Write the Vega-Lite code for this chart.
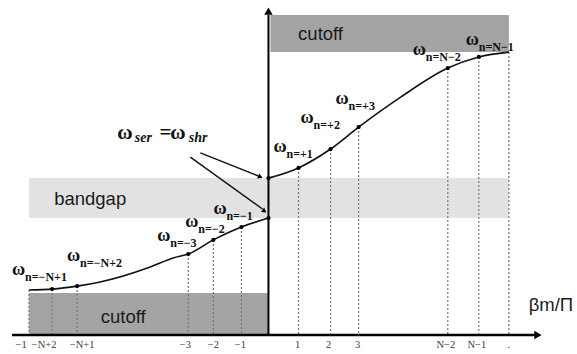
{
  "$schema": "https://vega.github.io/schema/vega-lite/v6.json",
  "width": 577,
  "height": 354,
  "padding": 0,
  "autosize": {"type": "none"},
  "background": "white",
  "config": {"view": {"stroke": null}},
  "datasets": {
    "regions": [
      {"kind": "cutoff", "x": -7.967, "x2": 0, "y": 0, "y2": 0.14},
      {"kind": "bandgap", "x": -7.967, "x2": 8, "y": 0.39, "y2": 0.523},
      {"kind": "cutoff", "x": 0.067, "x2": 8, "y": 0.943, "y2": 1.067}
    ],
    "curve": [
      {"branch": "left", "x": -7.967, "y": 0.15, "dot": false, "tick": true},
      {"branch": "left", "x": -7.2, "y": 0.153, "dot": true, "tick": true},
      {"branch": "left", "x": -6.367, "y": 0.163, "dot": true, "tick": true},
      {"branch": "left", "x": -5.6, "y": 0.177, "dot": false, "tick": false},
      {"branch": "left", "x": -3.933, "y": 0.227, "dot": false, "tick": false},
      {"branch": "left", "x": -3.167, "y": 0.257, "dot": false, "tick": false},
      {"branch": "left", "x": -2.667, "y": 0.27, "dot": true, "tick": true},
      {"branch": "left", "x": -1.833, "y": 0.317, "dot": true, "tick": true},
      {"branch": "left", "x": -0.9, "y": 0.36, "dot": true, "tick": true},
      {"branch": "left", "x": 0, "y": 0.39, "dot": true, "tick": false},
      {"branch": "right", "x": 0, "y": 0.523, "dot": true, "tick": false},
      {"branch": "right", "x": 1, "y": 0.557, "dot": true, "tick": true},
      {"branch": "right", "x": 2.067, "y": 0.62, "dot": true, "tick": true},
      {"branch": "right", "x": 3, "y": 0.693, "dot": true, "tick": true},
      {"branch": "right", "x": 4.4, "y": 0.793, "dot": false, "tick": false},
      {"branch": "right", "x": 5.967, "y": 0.89, "dot": true, "tick": true},
      {"branch": "right", "x": 7, "y": 0.927, "dot": true, "tick": true},
      {"branch": "right", "x": 8, "y": 0.943, "dot": false, "tick": true}
    ],
    "hAxis": [{"x": -8.533, "x2": 8.9, "y": 0}],
    "vAxis": [{"x": 0, "y": 0, "y2": 1.067}],
    "heads": [
      {"x": 8.967, "y": 0, "dir": "right"},
      {"x": 0, "y": 1.08, "dir": "up"}
    ],
    "pointers": [
      {"x": -2.267, "y": 0.607, "x2": -0.333, "y2": 0.53},
      {"x": -2.6, "y": 0.593, "x2": -0.2, "y2": 0.42}
    ],
    "wlabels": [
      {"x": -8.533, "y": 0.217, "sub": "n=−N+1"},
      {"x": -6.7, "y": 0.263, "sub": "n=−N+2"},
      {"x": -3.7, "y": 0.33, "sub": "n=−3"},
      {"x": -2.767, "y": 0.377, "sub": "n=−2"},
      {"x": -1.833, "y": 0.42, "sub": "n=−1"},
      {"x": 0.167, "y": 0.627, "sub": "n=+1"},
      {"x": 1.067, "y": 0.723, "sub": "n=+2"},
      {"x": 2.233, "y": 0.787, "sub": "n=+3"},
      {"x": 4.8, "y": 0.95, "sub": "n=N−2"},
      {"x": 6.567, "y": 0.983, "sub": "n=N−1"}
    ],
    "ticks": [
      {"x": -8.233, "y": -0.033, "label": "−1"},
      {"x": -7.467, "y": -0.033, "label": "−N+2"},
      {"x": -6.2, "y": -0.033, "label": "−N+1"},
      {"x": -2.767, "y": -0.033, "label": "−3"},
      {"x": -1.833, "y": -0.033, "label": "−2"},
      {"x": -0.933, "y": -0.033, "label": "−1"},
      {"x": 0.967, "y": -0.033, "label": "1"},
      {"x": 2, "y": -0.033, "label": "2"},
      {"x": 2.967, "y": -0.033, "label": "3"},
      {"x": 5.9, "y": -0.033, "label": "N−2"},
      {"x": 6.933, "y": -0.033, "label": "N−1"},
      {"x": 8, "y": -0.033, "label": "."}
    ],
    "notes": [
      {"x": 1.733, "y": 1.003, "text": "cutoff"},
      {"x": -4.833, "y": 0.06, "text": "cutoff"},
      {"x": -5.933, "y": 0.453, "text": "bandgap"},
      {"x": 9.4, "y": 0.1, "text": "βm/Π"}
    ],
    "serMain": [
      {"x": -5.03, "y": 0.673, "text": "ω"},
      {"x": -3.63, "y": 0.673, "text": "="},
      {"x": -3.27, "y": 0.673, "text": "ω"}
    ],
    "serSub": [
      {"x": -4.45, "y": 0.657, "text": "ser"},
      {"x": -2.65, "y": 0.657, "text": "shr"}
    ]
  },
  "resolve": {"scale": {"x": "shared", "y": "shared"}},
  "encoding": {
    "x": {"field": "x", "type": "quantitative", "scale": {"domain": [-8.9333, 10.2667], "nice": false, "zero": false}, "axis": null},
    "y": {"field": "y", "type": "quantitative", "scale": {"domain": [-0.0633, 1.1167], "nice": false, "zero": false}, "axis": null}
  },
  "layer": [
    {
      "data": {"name": "regions"},
      "mark": {"type": "rect"},
      "encoding": {
        "x2": {"field": "x2"},
        "y2": {"field": "y2"},
        "color": {"field": "kind", "type": "nominal", "scale": {"domain": ["cutoff", "bandgap"], "range": ["#a4a4a4", "#e2e2e2"]}, "legend": null}
      }
    },
    {
      "data": {"name": "curve"},
      "transform": [{"filter": "datum.tick"}],
      "mark": {"type": "rule", "strokeDash": [2, 2], "stroke": "#777777", "strokeWidth": 1.2},
      "encoding": {"y2": {"datum": 0}}
    },
    {
      "data": {"name": "curve"},
      "mark": {"type": "line", "interpolate": "monotone", "stroke": "#111111", "strokeWidth": 1.6},
      "encoding": {"detail": {"field": "branch"}}
    },
    {
      "data": {"name": "curve"},
      "transform": [{"filter": "datum.dot"}],
      "mark": {"type": "point", "filled": true, "color": "#000000", "size": 18, "opacity": 1}
    },
    {
      "data": {"name": "hAxis"},
      "mark": {"type": "rule", "color": "#000000", "strokeWidth": 2.5},
      "encoding": {"x2": {"field": "x2"}}
    },
    {
      "data": {"name": "vAxis"},
      "mark": {"type": "rule", "color": "#000000", "strokeWidth": 2},
      "encoding": {"y2": {"field": "y2"}}
    },
    {
      "data": {"name": "heads"},
      "mark": {"type": "point", "filled": true, "color": "#000000", "size": 70, "opacity": 1},
      "encoding": {
        "shape": {"field": "dir", "type": "nominal", "scale": {"domain": ["right", "up"], "range": ["triangle-right", "triangle-up"]}, "legend": null}
      }
    },
    {
      "data": {"name": "pointers"},
      "mark": {"type": "rule", "color": "#111111", "strokeWidth": 1.4},
      "encoding": {"x2": {"field": "x2"}, "y2": {"field": "y2"}}
    },
    {
      "data": {"values": [{"x": -0.267, "y": 0.527}]},
      "mark": {"type": "point", "shape": "triangle-right", "filled": true, "color": "#000000", "size": 30, "angle": 22, "opacity": 1}
    },
    {
      "data": {"values": [{"x": -0.133, "y": 0.413}]},
      "mark": {"type": "point", "shape": "triangle-right", "filled": true, "color": "#000000", "size": 30, "angle": 36, "opacity": 1}
    },
    {
      "data": {"name": "wlabels"},
      "mark": {"type": "text", "text": "ω", "align": "left", "baseline": "middle", "font": "Liberation Serif", "fontSize": 18, "fontWeight": "bold", "color": "#111111"}
    },
    {
      "data": {"name": "wlabels"},
      "mark": {"type": "text", "align": "left", "baseline": "middle", "dx": 13, "dy": 7, "font": "Liberation Serif", "fontSize": 12, "fontWeight": "bold", "color": "#111111"},
      "encoding": {"text": {"field": "sub"}}
    },
    {
      "data": {"name": "ticks"},
      "mark": {"type": "text", "align": "center", "baseline": "middle", "font": "Liberation Serif", "fontSize": 10.5, "color": "#3a3a3a"},
      "encoding": {"text": {"field": "label"}}
    },
    {
      "data": {"name": "notes"},
      "mark": {"type": "text", "align": "center", "baseline": "middle", "font": "Liberation Sans", "fontSize": 18.5, "color": "#1a1a1a"},
      "encoding": {"text": {"field": "text"}}
    },
    {
      "data": {"name": "serMain"},
      "mark": {"type": "text", "align": "left", "baseline": "middle", "font": "Liberation Serif", "fontSize": 21, "fontWeight": "bold", "color": "#111111"},
      "encoding": {"text": {"field": "text"}}
    },
    {
      "data": {"name": "serSub"},
      "mark": {"type": "text", "align": "left", "baseline": "middle", "font": "Liberation Serif", "fontSize": 14, "fontStyle": "italic", "fontWeight": "bold", "color": "#111111"},
      "encoding": {"text": {"field": "text"}}
    }
  ]
}
